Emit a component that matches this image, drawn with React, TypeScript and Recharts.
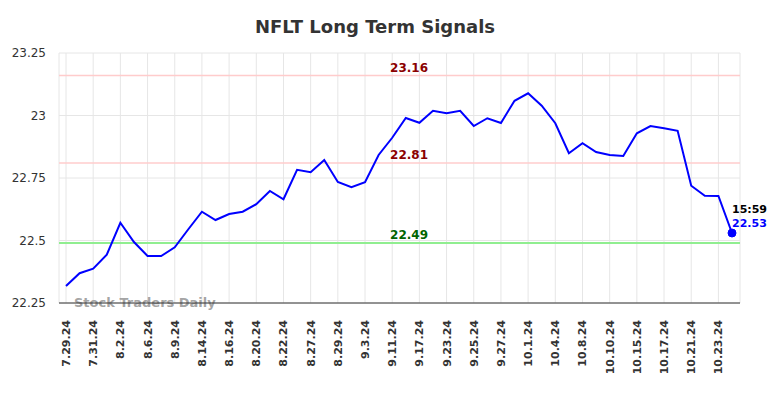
import React from 'react';
import { LineChart, Line, XAxis, YAxis, CartesianGrid, ReferenceLine } from 'recharts';

const dates = [
  '7.29.24', '7.30.24', '7.31.24', '8.1.24', '8.2.24', '8.5.24', '8.6.24', '8.8.24', '8.9.24', '8.12.24',
  '8.14.24', '8.15.24', '8.16.24', '8.19.24', '8.20.24', '8.21.24', '8.22.24', '8.26.24', '8.27.24', '8.28.24',
  '8.29.24', '8.30.24', '9.3.24', '9.10.24', '9.11.24', '9.16.24', '9.17.24', '9.20.24', '9.23.24', '9.24.24',
  '9.25.24', '9.26.24', '9.27.24', '9.30.24', '10.1.24', '10.3.24', '10.4.24', '10.7.24', '10.8.24', '10.9.24',
  '10.10.24', '10.14.24', '10.15.24', '10.16.24', '10.17.24', '10.18.24', '10.21.24', '10.22.24', '10.23.24', '10.24.24',
];

const prices = [
  22.318, 22.369, 22.387, 22.443, 22.571, 22.494, 22.438, 22.438, 22.473, 22.545,
  22.615, 22.582, 22.606, 22.615, 22.645, 22.698, 22.665, 22.783, 22.773, 22.822,
  22.734, 22.713, 22.733, 22.842, 22.911, 22.99, 22.971, 23.019, 23.009, 23.019,
  22.958, 22.989, 22.97, 23.059, 23.089, 23.039, 22.969, 22.849, 22.889, 22.854,
  22.842, 22.838, 22.929, 22.958, 22.949, 22.939, 22.719, 22.679, 22.678, 22.53,
];

const yTicks = [22.25, 22.5, 22.75, 23, 23.25];
const resistanceHigh = 23.16;
const resistanceLow = 22.81;
const support = 22.49;
const lastTime = '15:59';
const title = 'NFLT Long Term Signals';
const watermark = 'Stock Traders Daily';

const data = dates.map((d, i) => ({ date: d, price: prices[i] }));
const FONT = '"DejaVu Sans", sans-serif';

const XTick = (props: any) => {
  const { x, payload } = props;
  const y = props.y + 9;
  return (
    <text
      x={x}
      y={y}
      dy={4}
      transform={`rotate(-90, ${x}, ${y})`}
      textAnchor="end"
      fontFamily={FONT}
      fontSize={11}
      fontWeight="bold"
      fill="#333"
    >
      {payload.value}
    </text>
  );
};

const makeRefLabel = (text: string, color: string) => (props: any) => {
  const vb = props.viewBox;
  return (
    <text
      x={vb.x + vb.width * 0.514}
      y={vb.y - 4}
      textAnchor="middle"
      fontFamily={FONT}
      fontSize={12}
      fontWeight="bold"
      fill={color}
    >
      {text}
    </text>
  );
};

const LastDot = (props: any) => {
  const { cx, cy, index } = props;
  if (index !== prices.length - 1) return <g key={index} />;
  return (
    <g key={index}>
      <circle cx={cx} cy={cy} r={4} fill="#0000ff" stroke="#0000ff" />
      <text x={cx} y={cy - 20} fontFamily={FONT} fontSize={11} fontWeight="bold" fill="#000">
        {lastTime}
      </text>
      <text x={cx} y={cy - 6} fontFamily={FONT} fontSize={11} fontWeight="bold" fill="#0000ff">
        {prices[prices.length - 1].toFixed(2)}
      </text>
    </g>
  );
};

export default function App() {
  return (
    <div style={{ position: 'absolute', left: 0, top: 0, width: 784, height: 398, background: '#fff' }}>
      <LineChart
        width={784}
        height={398}
        data={data}
        margin={{ top: 53, right: 44, bottom: 0, left: 0 }}
      >
        <text x={375} y={33} textAnchor="middle" fontFamily={FONT} fontSize={18} fontWeight="bold" fill="#333">
          {title}
        </text>
        <CartesianGrid stroke="#e6e6e6" strokeWidth={1} />
        <XAxis
          dataKey="date"
          interval={1}
          tick={<XTick />}
          tickLine={false}
          axisLine={{ stroke: '#333', strokeWidth: 1 }}
          height={95}
          padding={{ left: 7, right: 8 }}
        />
        <YAxis
          domain={[22.25, 23.25]}
          ticks={yTicks}
          width={59}
          axisLine={false}
          tickLine={false}
          tick={{ fontFamily: FONT, fontSize: 12, fill: '#333' }}
          tickMargin={7}
        />
        <text x={74} y={307} fontFamily={FONT} fontSize={13} fontWeight="bold" fill="#999" fillOpacity={0.9}>
          {watermark}
        </text>
        <ReferenceLine y={resistanceHigh} stroke="#ffcccc" strokeWidth={1.5} label={makeRefLabel('23.16', '#8b0000')} />
        <ReferenceLine y={resistanceLow} stroke="#ffcccc" strokeWidth={1.5} label={makeRefLabel('22.81', '#8b0000')} />
        <ReferenceLine y={support} stroke="#90ee90" strokeWidth={2} label={makeRefLabel('22.49', '#006400')} />
        <Line
          type="linear"
          dataKey="price"
          stroke="#0000ff"
          strokeWidth={2}
          dot={<LastDot />}
          activeDot={false}
          isAnimationActive={false}
        />
      </LineChart>
    </div>
  );
}
